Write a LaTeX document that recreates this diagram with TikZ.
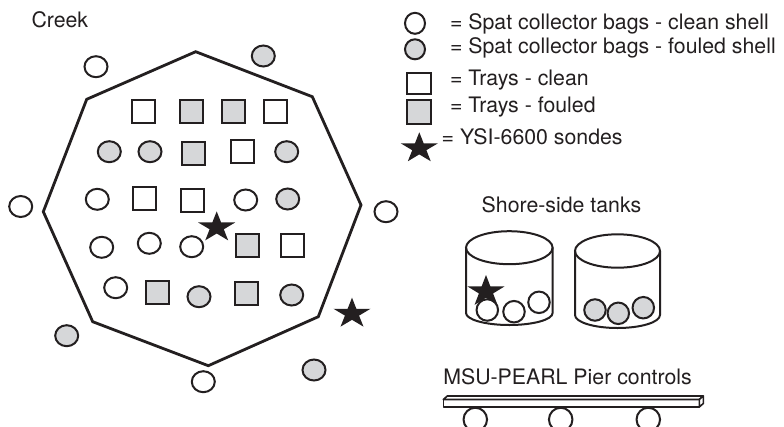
\documentclass[tikz,border=0pt]{standalone}
\usepackage{fontspec}
\setmainfont{TeX Gyre Heros}
\usetikzlibrary{shapes.geometric}
\definecolor{ink}{HTML}{231F20}
\definecolor{foul}{HTML}{D6D7D9}
% five-pointed sonde star: centre x, centre y, x radius, y radius
\newcommand\sondeat[4]{%
  \begin{scope}[shift={(#1,#2)}, x=#3pt, y=#4pt]
    \fill[ink] (90:1) -- (126:0.382) -- (162:1) -- (198:0.382) -- (234:1) -- (270:0.382)
      -- (306:1) -- (342:0.382) -- (18:1) -- (54:0.382) -- cycle;
  \end{scope}}
\begin{document}
\begin{tikzpicture}[x=1pt,y=-1pt,
  every node/.style={inner sep=0pt, outer sep=0pt},
  bag/.style={ellipse, draw=ink, line width=2pt, fill=white, minimum width=23pt, minimum height=21pt},
  tray/.style={rectangle, draw=ink, line width=2pt, fill=white, minimum width=23pt, minimum height=23pt},
  fouled/.style={fill=foul},
  txt/.style={text=ink, font=\fontsize{21.3}{25}\selectfont, anchor=base west},
  wall/.style={draw=ink, line width=2pt},
  ]
\clip (0,0) rectangle (784,426);
\fill[white] (0,0) rectangle (784,426);

% creek outline
\coordinate (vT) at (195.7,51.7);
\coordinate (vUR) at (312.3,96.7);
\coordinate (vR) at (361,205);
\coordinate (vLR) at (318.3,316.7);
\coordinate (vB) at (208.3,365.7);
\coordinate (vLL) at (92.7,321.7);
\coordinate (vL) at (43.3,211.7);
\coordinate (vUL) at (86.7,99.3);
\draw[ink, line width=2.8pt, line join=miter] (vT) -- (vUR) -- (vR) -- (vLR) -- (vB) -- (vLL) -- (vL) -- (vUL) -- cycle;

\node[txt] (creek) at (31.5,27) {Creek};

% outside the array
\node[bag] (o1) at (96,66.7) {};
\node[bag, fouled] (o2) at (263.3,56) {};
\node[bag] (o3) at (20.7,206.5) {};
\node[bag] (o4) at (386,211.7) {};
\node[bag, fouled] (o5) at (66.7,335.7) {};
\node[bag] (o6) at (203.3,381.7) {};
\node[bag, fouled] (o7) at (314,370) {};
\sondeat{352}{313.7}{19.5}{16}

% row 1
\node[tray] (r1a) at (143.3,111) {};
\node[tray, fouled] (r1b) at (191,111) {};
\node[tray, fouled] (r1c) at (233.3,111) {};
\node[tray] (r1d) at (275,111) {};
% row 2
\node[bag, fouled] (r2a) at (109.3,151.7) {};
\node[bag, fouled] (r2b) at (150,151.7) {};
\node[tray, fouled] (r2c) at (193.3,153) {};
\node[tray] (r2d) at (242.3,151.7) {};
\node[bag, fouled] (r2e) at (286.7,151.7) {};
% row 3
\node[bag] (r3a) at (97.3,199.3) {};
\node[tray] (r3b) at (144,198.3) {};
\node[tray] (r3c) at (192.3,200) {};
\node[bag] (r3d) at (245.7,200) {};
\node[bag, fouled] (r3e) at (287.7,199) {};
\sondeat{216.7}{227.4}{19.5}{16}
% row 4
\node[bag] (r4a) at (101.7,247.3) {};
\node[bag] (r4b) at (149.3,243.3) {};
\node[bag] (r4c) at (191.7,246.7) {};
\node[tray, fouled] (r4d) at (247.7,245.7) {};
\node[tray] (r4e) at (292.7,245.7) {};
% row 5
\node[bag] (r5a) at (115.7,287.7) {};
\node[tray, fouled] (r5b) at (157.3,292.3) {};
\node[bag, fouled] (r5c) at (199,296.7) {};
\node[tray, fouled] (r5d) at (246.7,293.3) {};
\node[bag, fouled] (r5e) at (291.7,295) {};

% legend
\node[bag, minimum width=20pt, minimum height=21pt] (k1) at (415,23.3) {};
\node[bag, fouled, minimum width=20pt, minimum height=20pt] (k2) at (415,49.3) {};
\node[tray, minimum width=23.5pt, minimum height=21pt] (k3) at (418.8,83.7) {};
\node[tray, fouled, minimum width=23.5pt, minimum height=23.5pt] (k4) at (418.8,112.2) {};
\sondeat{419.3}{148.3}{19.5}{16}
\node[txt] (t1) at (450,29) {= Spat collector bags - clean shell};
\node[txt] (t2) at (450,53.5) {= Spat collector bags - fouled shell};
\node[txt] (t3) at (450,85) {= Trays - clean};
\node[txt] (t4) at (450,112) {= Trays - fouled};
\node[txt] (t5) at (441.7,144) {= YSI-6600 sondes};

% shore-side tanks
\node[txt] (tanks) at (481.7,212.7) {Shore-side tanks};
\draw[wall] (509.3,247.7) ellipse [x radius=43.3pt, y radius=16.5pt];
\draw[wall] (466,247.7) -- (466,313) arc[start angle=180, end angle=360, x radius=43.3pt, y radius=12pt] -- (552.6,247.7);
\draw[wall] (617.5,251) ellipse [x radius=42.5pt, y radius=16.7pt];
\draw[wall] (575,251) -- (575,315) arc[start angle=180, end angle=360, x radius=42.5pt, y radius=13pt] -- (660,251);
\node[bag, circle, minimum size=21.5pt] (a1) at (487.3,310) {};
\node[bag, circle, minimum size=21.5pt] (a2) at (514,311.7) {};
\node[bag, circle, minimum size=21.5pt] (a3) at (539,302.3) {};
\sondeat{486}{291.5}{19.5}{16.5}
\node[bag, fouled, circle, minimum size=21.5pt] (b1) at (595,310) {};
\node[bag, fouled, circle, minimum size=21.5pt] (b2) at (618.3,313.3) {};
\node[bag, fouled, circle, minimum size=21.5pt] (b3) at (643.3,307.7) {};

% pier
\node[txt] (pier) at (443.3,384) {MSU-PEARL Pier controls};
\node[bag, circle, minimum size=23.5pt] (p1) at (475.3,419.5) {};
\node[bag, circle, minimum size=23.5pt] (p2) at (560.7,419.5) {};
\node[bag, circle, minimum size=23.5pt] (p3) at (648.3,419.5) {};
\filldraw[fill=white, draw=ink, line width=1.6pt, line join=round] (443.3,399.5) rectangle (699.3,407);
\filldraw[fill=white, draw=ink, line width=1.6pt, line join=round] (443.3,399.5) -- (447.3,396) -- (703.3,396) -- (699.3,399.5) -- cycle;
\filldraw[fill=white, draw=ink, line width=1.6pt, line join=round] (699.3,399.5) -- (703.3,396) -- (703.3,403.5) -- (699.3,407) -- cycle;
\end{tikzpicture}
\end{document}
